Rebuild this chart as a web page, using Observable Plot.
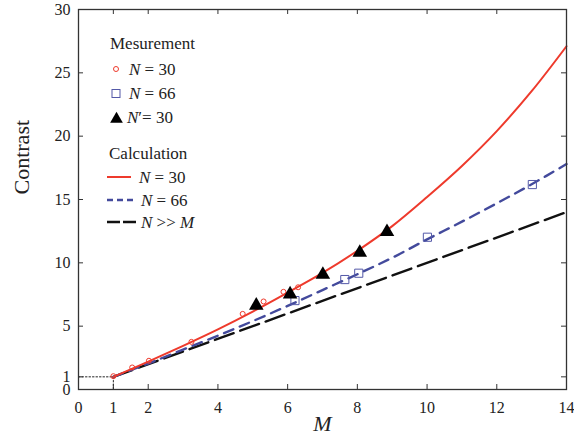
<!DOCTYPE html>
<html><head><meta charset="utf-8">
<script src="https://cdn.jsdelivr.net/npm/d3@7"></script>
<script src="https://cdn.jsdelivr.net/npm/@observablehq/plot@0.6"></script>
<style>
body{margin:0;background:#fff}
#chart{position:relative;width:574px;height:443px}
</style>
</head><body><div id="chart"></div>
<script>
// ---- data ----
const xTicks = [0, 1, 2, 4, 6, 8, 10, 12, 14];
const yTicks = [0, 1, 5, 10, 15, 20, 25, 30];

// Calculation curves
const calcM    = [1, 2, 3, 4, 5, 6, 7, 8, 9, 10, 11, 12, 13, 14];
const calcN30  = [1.0, 2.2, 3.45, 4.75, 6.15, 7.65, 9.2, 10.95, 12.9, 15.2, 17.65, 20.4, 23.55, 27.1];
const calcN66  = [1.0, 2.05, 3.15, 4.25, 5.4, 6.6, 7.85, 9.1, 10.4, 11.85, 13.25, 14.7, 16.2, 17.8];
const calcInfM = [1, 14];
const calcInfC = [1, 14];

// Measurements
const measN30M  = [1.0, 1.54, 2.02, 3.24, 4.71, 5.31, 5.88, 6.30];
const measN30C  = [1.05, 1.74, 2.27, 3.76, 5.97, 6.95, 7.71, 8.07];
const measN66M  = [6.21, 7.64, 8.04, 10.01, 13.02];
const measN66C  = [7.02, 8.68, 9.18, 12.02, 16.18];
const measNpM   = [5.10, 6.07, 7.01, 8.07, 8.85];
const measNpC   = [6.79, 7.68, 9.23, 10.97, 12.6];

// dotted guide to (1,1)
const guideM = [0, 1, 1];
const guideC = [1, 1, 0];

const RED = "#ee3a2c", BLUE = "#434a9c", BLUE2 = "#5459a8";
const SERIF = "'Liberation Serif', 'DejaVu Serif', serif";

const zip = (xs, ys) => xs.map((x, i) => ({M: x, C: ys[i]}));

const svg = Plot.plot({
  width: 574, height: 443,
  marginLeft: 78, marginRight: 8, marginTop: 9, marginBottom: 54,
  style: {fontFamily: SERIF, fontSize: "16px", color: "#222", background: "#fff"},
  x: {domain: [0, 14], label: null},
  y: {domain: [0, 30], label: null},
  marks: [
    Plot.line(zip(guideM, guideC), {x: "M", y: "C", stroke: "#222", strokeWidth: 1, strokeDasharray: "1.5,2"}),
    Plot.line(zip(calcInfM, calcInfC), {x: "M", y: "C", stroke: "#111", strokeWidth: 2.4, strokeDasharray: "20,7"}),
    Plot.line(zip(calcM, calcN66), {x: "M", y: "C", stroke: BLUE, strokeWidth: 2.4, strokeDasharray: "10,7", curve: "catmull-rom"}),
    Plot.line(zip(calcM, calcN30), {x: "M", y: "C", stroke: RED, strokeWidth: 2, curve: "catmull-rom"}),
    Plot.dot(zip(measN30M, measN30C), {x: "M", y: "C", r: 2.5, stroke: RED, strokeWidth: 1, fill: "none"}),
    Plot.dot(zip(measN66M, measN66C), {x: "M", y: "C", symbol: "square", r: 4.6, stroke: BLUE2, strokeWidth: 1, fill: "none"}),
    Plot.dot(zip(measNpM, measNpC), {x: "M", y: "C", symbol: "triangle", r: 5.4, dy: 2, fill: "#000", stroke: "none"}),
    // inward ticks
    Plot.tickX(xTicks, {x: d => d, insetTop: 375, stroke: "#333"}),
    Plot.tickX(xTicks, {x: d => d, insetBottom: 375, stroke: "#333"}),
    Plot.tickY(yTicks, {y: d => d, insetRight: 483, stroke: "#333"}),
    Plot.tickY(yTicks, {y: d => d, insetLeft: 483, stroke: "#333"}),
    Plot.axisX({ticks: xTicks, tickSize: 0, tickPadding: 12, label: null, tickFormat: d => d}),
    Plot.axisY({ticks: yTicks, tickSize: 0, tickPadding: 8, label: null, tickFormat: d => d}),
    Plot.frame({stroke: "#333", strokeWidth: 1.3}),
    Plot.text(["M"], {frameAnchor: "bottom", dy: 41, fontStyle: "italic", fontSize: 22, text: d => d, fill: "#222"}),
    Plot.text(["Contrast"], {frameAnchor: "left", dx: -57, dy: -5, rotate: -90, fontSize: 22, text: d => d, fill: "#222"})
  ]
});
document.getElementById("chart").appendChild(svg);

// ---- legend (inside the frame) ----
const g = d3.select(svg).append("g")
  .attr("font-family", SERIF)
  .attr("font-size", 17).attr("fill", "#222")
  .attr("text-anchor", "start");

function label(x, y, parts) {
  const t = g.append("text").attr("x", x).attr("y", y).attr("dy", "0.35em").attr("text-anchor", "start");
  parts.forEach(([s, it]) => t.append("tspan").attr("font-style", it ? "italic" : "normal").text(s));
}
label(110, 43, [["Mesurement", false]]);
g.append("circle").attr("cx", 116).attr("cy", 69).attr("r", 2.5).attr("fill", "none").attr("stroke", RED);
label(129, 69, [["N", true], [" = 30", false]]);
g.append("rect").attr("x", 112).attr("y", 89.5).attr("width", 8).attr("height", 8).attr("fill", "none").attr("stroke", BLUE2);
label(129, 93, [["N", true], [" = 66", false]]);
g.append("path").attr("d", d3.symbol(d3.symbolTriangle, 70)()).attr("transform", "translate(116.5,119)").attr("fill", "#000");
label(127, 117, [["N", true], ["\u2032= 30", false]]);
label(109, 153, [["Calculation", false]]);
g.append("line").attr("x1", 107).attr("x2", 131).attr("y1", 177).attr("y2", 177).attr("stroke", RED).attr("stroke-width", 2);
label(139, 177, [["N", true], [" = 30", false]]);
g.append("line").attr("x1", 107).attr("x2", 134).attr("y1", 200).attr("y2", 200).attr("stroke", BLUE).attr("stroke-width", 2.4).attr("stroke-dasharray", "6,4");
label(141, 200, [["N", true], [" = 66", false]]);
g.append("line").attr("x1", 107).attr("x2", 137).attr("y1", 222).attr("y2", 222).attr("stroke", "#111").attr("stroke-width", 2.4).attr("stroke-dasharray", "13,3");
label(141, 222, [["N", true], [" >> ", false], ["M", true]]);
</script>
</body></html>
